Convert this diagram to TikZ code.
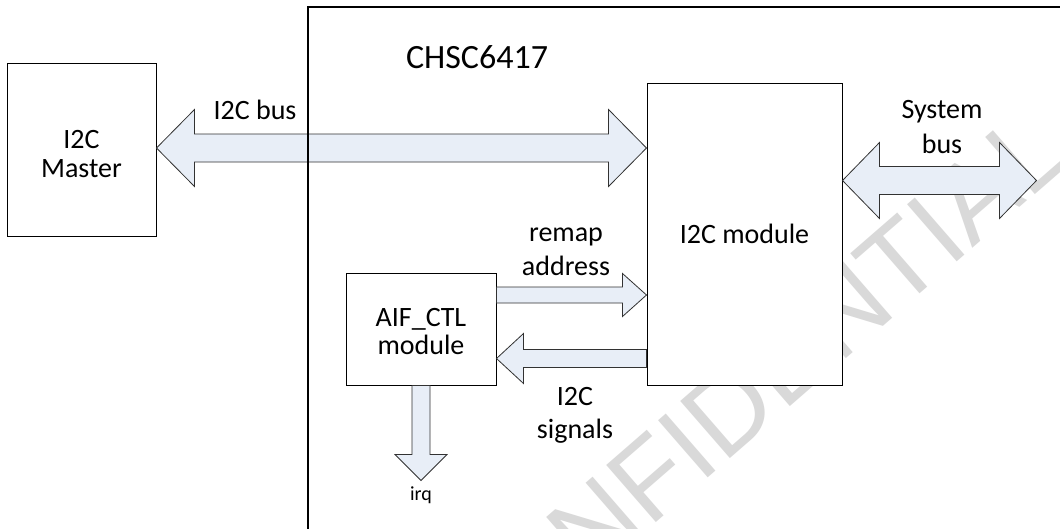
\documentclass[tikz,border=0pt]{standalone}
\usepackage{fontspec}
\setmainfont{Carlito}
\newfontfamily\wmfont{Liberation Sans}
\usetikzlibrary{calc}
\definecolor{arrowfill}{RGB}{232,238,247}
\definecolor{arrowline}{RGB}{50,50,50}
\definecolor{wmgray}{RGB}{217,217,217}
\tikzset{
  blockarrow/.style={draw=arrowline, fill=arrowfill, line width=0.8pt, line join=miter},
  boxnode/.style={draw=black, fill=white, line width=1pt, inner sep=0pt},
  lbl/.style={font=\fontsize{28}{33}\selectfont, inner sep=0pt, anchor=base},
  biglbl/.style={font=\fontsize{34}{40}\selectfont, inner sep=0pt, anchor=base},
  smalllbl/.style={font=\fontsize{20}{24}\selectfont, inner sep=0pt, anchor=base},
  wm/.style={font=\wmfont\fontsize{110}{110}\selectfont, text=wmgray, inner sep=0pt}
}
% single block arrow: tail, tip, head length, head half-width, shaft half-width
\newcommand\blkarrow[5]{%
  \coordinate (sa-b) at ($(#2)!#3!(#1)$);
  \draw[blockarrow] (#2) -- ($(sa-b)!#4!90:(#2)$) -- ($(sa-b)!#5!90:(#2)$)
    -- ($(#1)!#5!90:(#2)$) -- ($(#1)!#5!-90:(#2)$) -- ($(sa-b)!#5!-90:(#2)$)
    -- ($(sa-b)!#4!-90:(#2)$) -- cycle;}
% double block arrow: tip A, tip B, head length, head half-width, shaft half-width
\newcommand\blkdarrow[5]{%
  \coordinate (da-a) at ($(#1)!#3!(#2)$);
  \coordinate (da-b) at ($(#2)!#3!(#1)$);
  \draw[blockarrow] (#1) -- ($(da-a)!#4!90:(#2)$) -- ($(da-a)!#5!90:(#2)$)
    -- ($(da-b)!#5!-90:(#1)$) -- ($(da-b)!#4!-90:(#1)$) -- (#2)
    -- ($(da-b)!#4!90:(#1)$) -- ($(da-b)!#5!90:(#1)$)
    -- ($(da-a)!#5!-90:(#2)$) -- ($(da-a)!#4!-90:(#2)$) -- cycle;}
\begin{document}
\begin{tikzpicture}[x=1pt,y=-1pt]
\useasboundingbox (0,0) rectangle (1060,528);
\clip (0,0) rectangle (1060,528);
\fill[white] (0,0) rectangle (1060,528);
% watermark
\node[wm, rotate=41] (wmark) at (745,396) {CONFIDENTIAL};
% boxes
\node[boxnode, minimum width=148.5pt, minimum height=173pt] (master) at (81.75,149.5) {};
\node[boxnode, minimum width=195pt, minimum height=302pt] (i2cm) at (744.5,234) {};
\node[boxnode, minimum width=150pt, minimum height=112pt] (aif) at (421,329) {};
% arrows
\coordinate (busL) at ($(master.east)+(0,-1.5)$);
\coordinate (busR) at (busL -| i2cm.west);
\blkdarrow{busL}{busR}{38pt}{38.5pt}{14pt}
\coordinate (sysL) at ($(i2cm.north east)+(0,98)$);
\coordinate (sysR) at ($(sysL)+(194,0)$);
\blkdarrow{sysL}{sysR}{37pt}{38pt}{14pt}
\coordinate (remT) at ($(aif.north east)+(0,22.5)$);
\coordinate (remP) at (remT -| i2cm.west);
\blkarrow{remT}{remP}{24pt}{21.5pt}{8pt}
\coordinate (sigP) at ($(aif.north east)+(0,86)$);
\coordinate (sigT) at (sigP -| i2cm.west);
\blkarrow{sigT}{sigP}{27pt}{25pt}{9pt}
\coordinate (irqP) at ($(aif.south)+(0,95)$);
\blkarrow{aif.south}{irqP}{26pt}{26pt}{9pt}
% chip outline (extends beyond the picture)
\node[draw=black, line width=2.2pt, inner sep=0pt, anchor=north west,
      minimum width=1000pt, minimum height=700pt] (chip) at (307,6) {};
% labels
\node[biglbl] (chipname) at (477,68) {CHSC6417};
\node[lbl] (buslbl) at (255,119) {I2C bus};
\node[lbl] (mst1) at (81.5,148) {I2C};
\node[lbl] (mst2) at (81.5,177) {Master};
\node[lbl] (modlbl) at (744.5,243) {I2C module};
\node[lbl] (sys1) at (942,118) {System};
\node[lbl] (sys2) at (942,153) {bus};
\node[lbl] (rem1) at (566,241) {remap};
\node[lbl] (rem2) at (566,275) {address};
\node[lbl] (aif1) at (421,326) {AIF\_CTL};
\node[lbl] (aif2) at (421,354) {module};
\node[lbl] (sig1) at (575,405) {I2C};
\node[lbl] (sig2) at (575,438) {signals};
\node[smalllbl] (irqlbl) at (421,500) {irq};
\end{tikzpicture}
\end{document}
